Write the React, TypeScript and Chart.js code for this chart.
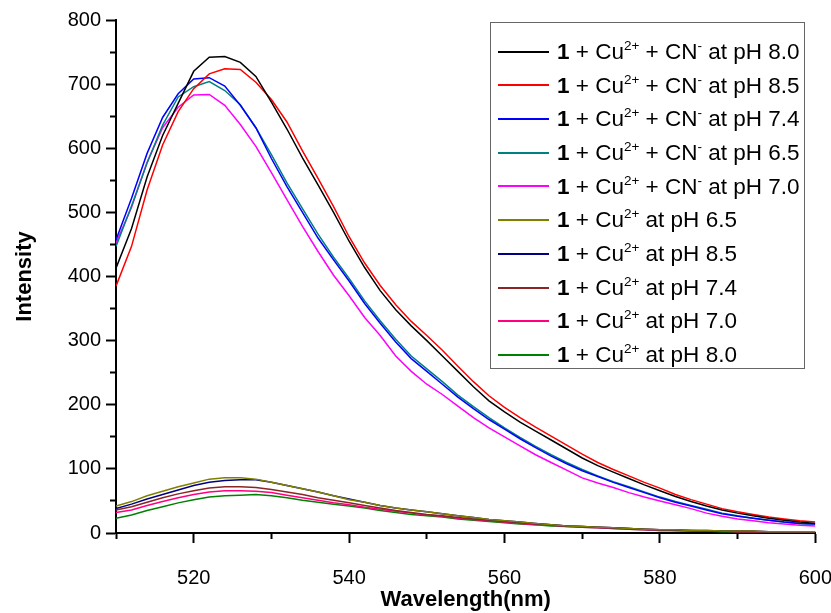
import React, { useEffect, useRef } from 'react';
import { Chart, registerables } from 'chart.js';

Chart.register(...registerables);

const FONT = "'Liberation Sans', Arial, Helvetica, sans-serif";

// Wavelength (nm)
const wavelengths = [
  510, 512, 514, 516, 518, 520, 522, 524, 526, 528,
  530, 532, 534, 536, 538, 540, 542, 544, 546, 548,
  550, 552, 554, 556, 558, 560, 562, 564, 566, 568,
  570, 572, 574, 576, 578, 580, 582, 584, 586, 588,
  590, 592, 594, 596, 598, 600,
];

// 1 + Cu2+ + CN- series
const cnPh80 = [
  413, 475, 555, 620, 670, 720, 742, 743, 734, 712,
  672, 630, 585, 543, 500, 455, 414, 378, 348, 323,
  300, 276, 252, 228, 206, 189, 173, 159, 145, 131,
  117, 105, 95, 85, 75, 66, 57, 49, 42, 36,
  31, 27, 23, 20, 17, 15,
];
const cnPh85 = [
  385, 447, 535, 605, 657, 693, 716, 724, 723, 703,
  676, 641, 596, 553, 509, 462, 421, 386, 356, 330,
  308, 285, 260, 236, 214, 196, 180, 165, 151, 137,
  123, 110, 99, 89, 79, 70, 60, 52, 45, 38,
  33, 29, 25, 22, 19, 17,
];
const cnPh74 = [
  457, 522, 592, 648, 685, 708, 710, 697, 667, 632,
  584, 540, 500, 460, 426, 393, 358, 327, 298, 272,
  252, 232, 212, 194, 177, 162, 147, 133, 120, 108,
  97, 88, 79, 71, 63, 55, 48, 42, 36, 30,
  26, 23, 20, 17, 15, 14,
];
const cnPh65 = [
  447, 510, 577, 636, 680, 696, 704, 690, 668, 632,
  590, 546, 506, 466, 430, 397, 362, 331, 302, 276,
  256, 236, 215, 197, 180, 164, 149, 135, 122, 110,
  99, 89, 80, 72, 64, 56, 49, 43, 37, 31,
  27, 23, 20, 17, 15, 14,
];
const cnPh70 = [
  452, 508, 578, 632, 664, 683, 684, 667, 637, 603,
  562, 520, 478, 439, 402, 370, 336, 308, 276, 252,
  232, 216, 198, 180, 164, 150, 136, 122, 110, 98,
  86, 78, 71, 63, 56, 50, 44, 38, 31, 26,
  22, 19, 16, 14, 12, 11,
];

// 1 + Cu2+ series
const cuPh65 = [
  42, 49, 58, 65, 72, 78, 84, 86, 86, 84,
  79, 74, 69, 64, 58, 52, 48, 43, 39, 36,
  33, 30, 27, 24, 21, 19, 17, 15, 13, 11,
  10, 9, 8, 7, 6, 5, 5, 4, 4, 3,
  3, 3, 2, 2, 2, 2,
];
const cuPh85 = [
  38, 45, 53, 60, 67, 74, 79, 82, 83, 83,
  79, 74, 69, 64, 58, 53, 48, 43, 39, 36,
  33, 30, 27, 24, 21, 19, 17, 15, 13, 11,
  10, 9, 8, 7, 6, 5, 5, 4, 4, 3,
  3, 3, 2, 2, 2, 2,
];
const cuPh74 = [
  36, 41, 48, 55, 61, 66, 70, 72, 72, 71,
  68, 64, 60, 55, 51, 47, 43, 39, 35, 32,
  29, 27, 24, 22, 20, 18, 16, 14, 13, 11,
  10, 9, 8, 7, 6, 5, 4, 4, 3, 3,
  3, 2, 2, 2, 2, 1,
];
const cuPh70 = [
  32, 36, 43, 49, 55, 60, 64, 66, 66, 65,
  63, 59, 55, 51, 47, 44, 40, 37, 34, 31,
  28, 26, 23, 21, 19, 17, 15, 13, 12, 10,
  9, 8, 7, 6, 5, 4, 4, 3, 3, 3,
  2, 2, 2, 2, 1, 1,
];
const cuPh80 = [
  23, 28, 35, 41, 47, 52, 56, 58, 59, 60,
  58, 55, 51, 48, 45, 42, 39, 35, 32, 29,
  27, 25, 22, 20, 18, 16, 14, 13, 11, 10,
  9, 8, 7, 6, 5, 4, 4, 3, 3, 2,
  2, 2, 2, 1, 1, 1,
];

// Legend entries (order as in the reference)
const seriesValues = [cnPh80, cnPh85, cnPh74, cnPh65, cnPh70, cuPh65, cuPh85, cuPh74, cuPh70, cuPh80];
const seriesWithCN = [true, true, true, true, true, false, false, false, false, false];
const seriesPH = ['8.0', '8.5', '7.4', '6.5', '7.0', '6.5', '8.5', '7.4', '7.0', '8.0'];
const seriesColors = [
  '#000000', '#FF0000', '#0000FF', '#008080', '#FF00FF',
  '#808000', '#000080', '#8B2525', '#FF0080', '#008000',
];

const xTickLabels = [520, 540, 560, 580, 600];
const yTickLabels = [0, 100, 200, 300, 400, 500, 600, 700, 800];

const seriesLabel = (i: number) =>
  `1 + Cu2+${seriesWithCN[i] ? ' + CN-' : ''} at pH ${seriesPH[i]}`;

export default function App() {
  const canvasRef = useRef<HTMLCanvasElement | null>(null);

  useEffect(() => {
    const canvas = canvasRef.current;
    if (!canvas) return;
    const datasets = seriesValues.map((vals, i) => ({
      label: seriesLabel(i),
      data: wavelengths.map((w, j) => ({ x: w, y: vals[j] })),
      borderColor: seriesColors[i],
      backgroundColor: seriesColors[i],
      borderWidth: 1.5,
      pointRadius: 0,
      fill: false,
      tension: 0,
    }));
    const chart = new Chart(canvas, {
      type: 'line',
      data: { datasets },
      options: {
        animation: false,
        responsive: false,
        maintainAspectRatio: false,
        layout: { padding: { left: 0, right: 0, top: 20, bottom: 0 } },
        plugins: { legend: { display: false }, tooltip: { enabled: false } },
        scales: {
          x: {
            type: 'linear',
            min: 510,
            max: 600,
            afterFit: (s: any) => { s.height = 80; },
            border: { display: true, color: '#000', width: 2 },
            grid: {
              drawOnChartArea: false,
              drawTicks: true,
              tickLength: 10,
              tickWidth: 2,
              tickColor: '#000',
              tickBorderDash: (ctx: any) =>
                ctx.tick && xTickLabels.includes(ctx.tick.value) ? [] : [5, 100],
            },
            ticks: {
              stepSize: 10,
              autoSkip: false,
              maxRotation: 0,
              padding: -1,
              color: '#000',
              font: { family: FONT, size: 20, lineHeight: 3.6 },
              callback: (v: any) => (xTickLabels.includes(Number(v)) ? String(v) : ''),
            },
            title: {
              display: true,
              text: 'Wavelength(nm)',
              color: '#000',
              font: { family: FONT, size: 22, weight: 'bold' },
              padding: 0,
            },
          },
          y: {
            type: 'linear',
            min: 0,
            max: 800,
            afterFit: (s: any) => { s.width = 116; },
            border: { display: true, color: '#000', width: 2 },
            grid: {
              drawOnChartArea: false,
              drawTicks: true,
              tickLength: 10,
              tickWidth: 2,
              tickColor: '#000',
              tickBorderDash: (ctx: any) =>
                ctx.tick && yTickLabels.includes(ctx.tick.value) ? [] : [0, 4, 6, 100],
            },
            ticks: {
              stepSize: 50,
              autoSkip: false,
              padding: 5,
              color: '#000',
              font: { family: FONT, size: 20 },
              callback: (v: any) => (yTickLabels.includes(Number(v)) ? String(v) : ''),
            },
            title: {
              display: true,
              text: 'Intensity',
              color: '#000',
              font: { family: FONT, size: 22, weight: 'bold' },
              padding: { top: 12, bottom: 0 },
            },
          },
        },
      },
    });
    return () => chart.destroy();
  }, []);

  const rowH = 33.7;
  return (
    <div
      style={{
        position: 'fixed',
        left: 0,
        top: 0,
        width: 831,
        height: 613,
        background: '#fff',
        fontFamily: FONT,
      }}
    >
      <canvas ref={canvasRef} width={831} height={613} style={{ display: 'block' }} />
      <div
        style={{
          position: 'absolute',
          left: 490,
          top: 22,
          width: 315,
          height: 347,
          boxSizing: 'border-box',
          border: '1px solid #666',
          background: '#fff',
        }}
      >
        {seriesValues.map((_, i) => (
          <div
            key={i}
            style={{
              position: 'absolute',
              left: 0,
              top: 29.7 - rowH / 2 + rowH * i - 1,
              height: rowH,
              display: 'flex',
              alignItems: 'center',
              whiteSpace: 'nowrap',
              color: '#000',
              fontSize: 22.5,
              lineHeight: `${rowH}px`,
            }}
          >
            <span
              style={{
                display: 'inline-block',
                marginLeft: 7,
                width: 51,
                height: 2,
                background: seriesColors[i],
                marginRight: 8,
              }}
            />
            <span>
              <b>1</b> + Cu
              <sup style={{ fontSize: '0.6em', lineHeight: 0, verticalAlign: '0.7em' }}>2+</sup>
              {seriesWithCN[i] ? (
                <>
                  {' '}+ CN
                  <sup style={{ fontSize: '0.6em', lineHeight: 0, verticalAlign: '0.7em' }}>-</sup>
                </>
              ) : null}{' '}
              at pH {seriesPH[i]}
            </span>
          </div>
        ))}
      </div>
    </div>
  );
}
